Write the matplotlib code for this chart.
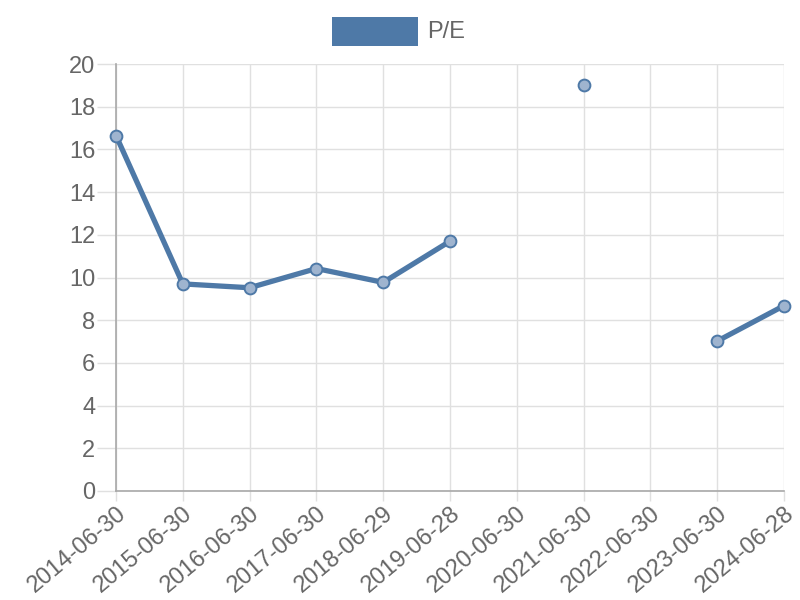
import numpy as np
import matplotlib.pyplot as plt
from matplotlib.patches import Rectangle

plt.rcParams['font.family'] = ['Liberation Sans', 'DejaVu Sans']

dates = ['2014-06-30', '2015-06-30', '2016-06-30', '2017-06-30', '2018-06-29',
         '2019-06-28', '2020-06-30', '2021-06-30', '2022-06-30', '2023-06-30',
         '2024-06-28']
pe = [16.65, 9.7, 9.52, 10.42, 9.77, 11.7, np.nan, 19.02, np.nan, 7.02, 8.68]

blue = '#4e79a7'
grid_c = '#e0e0e0'
axis_c = '#a8a8a8'
text_c = '#666666'

fig = plt.figure(figsize=(8, 6), dpi=100)
ax = fig.add_axes([0.145, 0.1817, 0.835, 0.7116])

x = np.arange(len(dates))
ax.plot(x, pe, color=blue, lw=3.8, marker='o', markersize=8.5,
        markerfacecolor='#9fb4cf', markeredgecolor=blue, markeredgewidth=1.4,
        solid_capstyle='round', clip_on=False, zorder=3)

ax.set_xlim(0, len(dates) - 1)
ax.set_ylim(0, 20)
ax.set_yticks(range(0, 21, 2))
ax.set_xticks(x)
ax.set_xticklabels(dates, rotation=40, ha='right', rotation_mode='anchor')

ax.grid(True, color=grid_c, lw=1)
ax.set_axisbelow(True)
for s in ['top', 'right']:
    ax.spines[s].set_visible(False)
for s in ['left', 'bottom']:
    ax.spines[s].set_color(axis_c)
    ax.spines[s].set_linewidth(1.2)
ax.tick_params(axis='both', width=1, color=grid_c, labelcolor=text_c,
               labelsize=17)
ax.tick_params(axis='y', length=14, pad=1)
ax.tick_params(axis='x', length=7, pad=1)

# legend
fig.patches.append(Rectangle((332 / 800, 1 - 46 / 600), 86 / 800, 29 / 600,
                             transform=fig.transFigure, facecolor=blue,
                             edgecolor='none'))
fig.text(427 / 800, 1 - 32 / 600, 'P/E', color=text_c, fontsize=17,
         va='center', ha='left')

fig.savefig('out.png', dpi=100)
